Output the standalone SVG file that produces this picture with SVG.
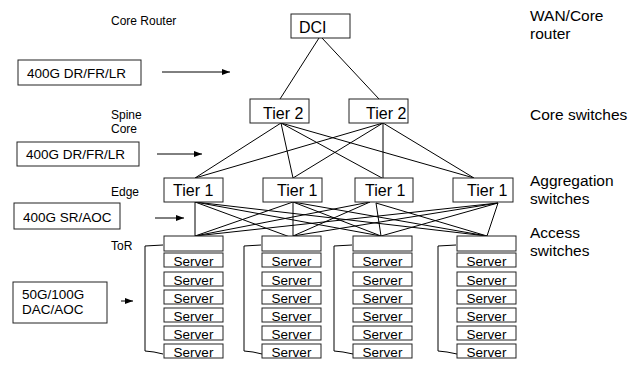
<svg xmlns="http://www.w3.org/2000/svg" width="639" height="365" viewBox="0 0 639 365">
<defs>
<style>
.box{fill:#fff;stroke:#222;stroke-width:1}
.ln{stroke:#000;stroke-width:1;fill:none}
.t{font-family:"Liberation Sans",Arial,sans-serif;fill:#000}
.sm{font-size:12px}
.md{font-size:13.5px}
.lg{font-size:15.5px}
.nd{font-size:16px}
.sv{font-size:13.5px;text-anchor:middle}
</style>
<marker id="ah" markerWidth="8" markerHeight="6" refX="8" refY="3" orient="auto" markerUnits="userSpaceOnUse">
<path d="M0,0 L8,3 L0,6 z" fill="#000"/>
</marker>
</defs>
<rect width="639" height="365" fill="#fff"/>

<g id="labels">
<text class="t sm" x="111" y="25">Core Router</text>
<text class="t sm" x="111" y="119">Spine</text>
<text class="t sm" x="111" y="133">Core</text>
<text class="t sm" x="111" y="196">Edge</text>
<text class="t sm" x="111" y="250">ToR</text>
<text class="t lg" x="530" y="21">WAN/Core</text>
<text class="t lg" x="530" y="39">router</text>
<text class="t lg" x="530" y="120">Core switches</text>
<text class="t lg" x="530" y="186">Aggregation</text>
<text class="t lg" x="530" y="204">switches</text>
<text class="t lg" x="530" y="238">Access</text>
<text class="t lg" x="530" y="256">switches</text>
</g>

<g id="link-labels">
<g id="l1"><rect class="box" x="18" y="60" width="123" height="25"/><text class="t md" x="27" y="78">400G DR/FR/LR</text></g>
<g id="l2"><rect class="box" x="17" y="142" width="122" height="24"/><text class="t md" x="26" y="159">400G DR/FR/LR</text></g>
<g id="l3"><rect class="box" x="14" y="203" width="106" height="26"/><text class="t md" x="23" y="222">400G SR/AOC</text></g>
<g id="l4"><rect class="box" x="13" y="282" width="94" height="41"/><text class="t md" x="22" y="299">50G/100G</text><text class="t md" x="22" y="314">DAC/AOC</text></g>
</g>

<g id="connectors">
<line class="ln" x1="162" y1="72" x2="230" y2="72" marker-end="url(#ah)"/>
<line class="ln" x1="157" y1="154" x2="202" y2="154" marker-end="url(#ah)"/>
<line class="ln" x1="155" y1="218" x2="184" y2="218" marker-end="url(#ah)"/>
<line class="ln" x1="121" y1="301" x2="133" y2="301" marker-end="url(#ah)"/>
<!-- DCI to Tier 2 -->
<line class="ln" x1="319" y1="38" x2="280" y2="99"/>
<line class="ln" x1="322" y1="38" x2="379" y2="99"/>
<!-- Tier 2 to Tier 1 -->
<line class="ln" x1="281" y1="123" x2="195" y2="178"/>
<line class="ln" x1="281" y1="123" x2="293" y2="178"/>
<line class="ln" x1="281" y1="123" x2="382" y2="178"/>
<line class="ln" x1="281" y1="123" x2="474" y2="178"/>
<line class="ln" x1="383" y1="123" x2="195" y2="178"/>
<line class="ln" x1="383" y1="123" x2="293" y2="178"/>
<line class="ln" x1="383" y1="123" x2="383" y2="178"/>
<line class="ln" x1="383" y1="123" x2="474" y2="178"/>
<!-- Tier 1 to ToR -->
<line class="ln" x1="195" y1="202" x2="195" y2="236"/>
<line class="ln" x1="195" y1="202" x2="290" y2="237"/>
<line class="ln" x1="195" y1="202" x2="381" y2="236"/>
<line class="ln" x1="195" y1="202" x2="487" y2="236"/>
<line class="ln" x1="293" y1="202" x2="195" y2="236"/>
<line class="ln" x1="293" y1="202" x2="293" y2="236"/>
<line class="ln" x1="293" y1="202" x2="381" y2="236"/>
<line class="ln" x1="293" y1="202" x2="487" y2="236"/>
<line class="ln" x1="370" y1="202" x2="195" y2="236"/>
<line class="ln" x1="370" y1="202" x2="293" y2="236"/>
<line class="ln" x1="376" y1="203" x2="381" y2="236"/>
<line class="ln" x1="376" y1="203" x2="487" y2="236"/>
<line class="ln" x1="498" y1="203" x2="195" y2="236"/>
<line class="ln" x1="498" y1="203" x2="293" y2="236"/>
<line class="ln" x1="498" y1="203" x2="381" y2="236"/>
<line class="ln" x1="498" y1="203" x2="487" y2="236"/>
<!-- rack brackets -->
<polyline class="ln" points="163,245 145,246 145,351 154,352 163,354"/>
<polyline class="ln" points="261,245 244,246 244,351 253,352 262,354"/>
<polyline class="ln" points="352,245 334,246 334,351 343,352 353,354"/>
<polyline class="ln" points="456,245 438,246 438,351 447,352 457,354"/>
</g>

<g id="dci"><rect class="box" x="291" y="14" width="59" height="24"/><text class="t nd" x="299" y="33">DCI</text></g>
<g id="tier2-a"><rect class="box" x="250" y="99" width="59" height="24"/><text class="t nd" x="263" y="119">Tier 2</text></g>
<g id="tier2-b"><rect class="box" x="349" y="99" width="59" height="24"/><text class="t nd" x="366" y="119">Tier 2</text></g>
<g id="tier1-a"><rect class="box" x="164" y="178" width="59" height="24"/><text class="t nd" x="173" y="196">Tier 1</text></g>
<g id="tier1-b"><rect class="box" x="263" y="178" width="59" height="24"/><text class="t nd" x="277" y="196">Tier 1</text></g>
<g id="tier1-c"><rect class="box" x="355" y="178" width="58" height="24"/><text class="t nd" x="365" y="196">Tier 1</text></g>
<g id="tier1-d"><rect class="box" x="453" y="178" width="60" height="24"/><text class="t nd" x="467" y="196">Tier 1</text></g>

<g id="rack-1">
<rect class="box" x="164" y="236" width="59" height="15"/>
<rect class="box" x="164" y="253" width="59" height="14"/><text class="t sv" x="193.5" y="265.5">Server</text>
<rect class="box" x="164" y="272" width="59" height="14"/><text class="t sv" x="193.5" y="284.5">Server</text>
<rect class="box" x="164" y="290" width="59" height="14"/><text class="t sv" x="193.5" y="302.5">Server</text>
<rect class="box" x="164" y="308" width="59" height="14"/><text class="t sv" x="193.5" y="320.5">Server</text>
<rect class="box" x="164" y="326" width="59" height="14"/><text class="t sv" x="193.5" y="338.5">Server</text>
<rect class="box" x="164" y="344" width="59" height="14"/><text class="t sv" x="193.5" y="356.5">Server</text>
</g>
<g id="rack-2">
<rect class="box" x="262" y="236" width="59" height="15"/>
<rect class="box" x="262" y="253" width="59" height="14"/><text class="t sv" x="291.5" y="265.5">Server</text>
<rect class="box" x="262" y="272" width="59" height="14"/><text class="t sv" x="291.5" y="284.5">Server</text>
<rect class="box" x="262" y="290" width="59" height="14"/><text class="t sv" x="291.5" y="302.5">Server</text>
<rect class="box" x="262" y="308" width="59" height="14"/><text class="t sv" x="291.5" y="320.5">Server</text>
<rect class="box" x="262" y="326" width="59" height="14"/><text class="t sv" x="291.5" y="338.5">Server</text>
<rect class="box" x="262" y="344" width="59" height="14"/><text class="t sv" x="291.5" y="356.5">Server</text>
</g>
<g id="rack-3">
<rect class="box" x="353" y="236" width="59" height="15"/>
<rect class="box" x="353" y="253" width="59" height="14"/><text class="t sv" x="382.5" y="265.5">Server</text>
<rect class="box" x="353" y="272" width="59" height="14"/><text class="t sv" x="382.5" y="284.5">Server</text>
<rect class="box" x="353" y="290" width="59" height="14"/><text class="t sv" x="382.5" y="302.5">Server</text>
<rect class="box" x="353" y="308" width="59" height="14"/><text class="t sv" x="382.5" y="320.5">Server</text>
<rect class="box" x="353" y="326" width="59" height="14"/><text class="t sv" x="382.5" y="338.5">Server</text>
<rect class="box" x="353" y="344" width="59" height="14"/><text class="t sv" x="382.5" y="356.5">Server</text>
</g>
<g id="rack-4">
<rect class="box" x="457" y="236" width="59" height="15"/>
<rect class="box" x="457" y="253" width="59" height="14"/><text class="t sv" x="486.5" y="265.5">Server</text>
<rect class="box" x="457" y="272" width="59" height="14"/><text class="t sv" x="486.5" y="284.5">Server</text>
<rect class="box" x="457" y="290" width="59" height="14"/><text class="t sv" x="486.5" y="302.5">Server</text>
<rect class="box" x="457" y="308" width="59" height="14"/><text class="t sv" x="486.5" y="320.5">Server</text>
<rect class="box" x="457" y="326" width="59" height="14"/><text class="t sv" x="486.5" y="338.5">Server</text>
<rect class="box" x="457" y="344" width="59" height="14"/><text class="t sv" x="486.5" y="356.5">Server</text>
</g>
</svg>
